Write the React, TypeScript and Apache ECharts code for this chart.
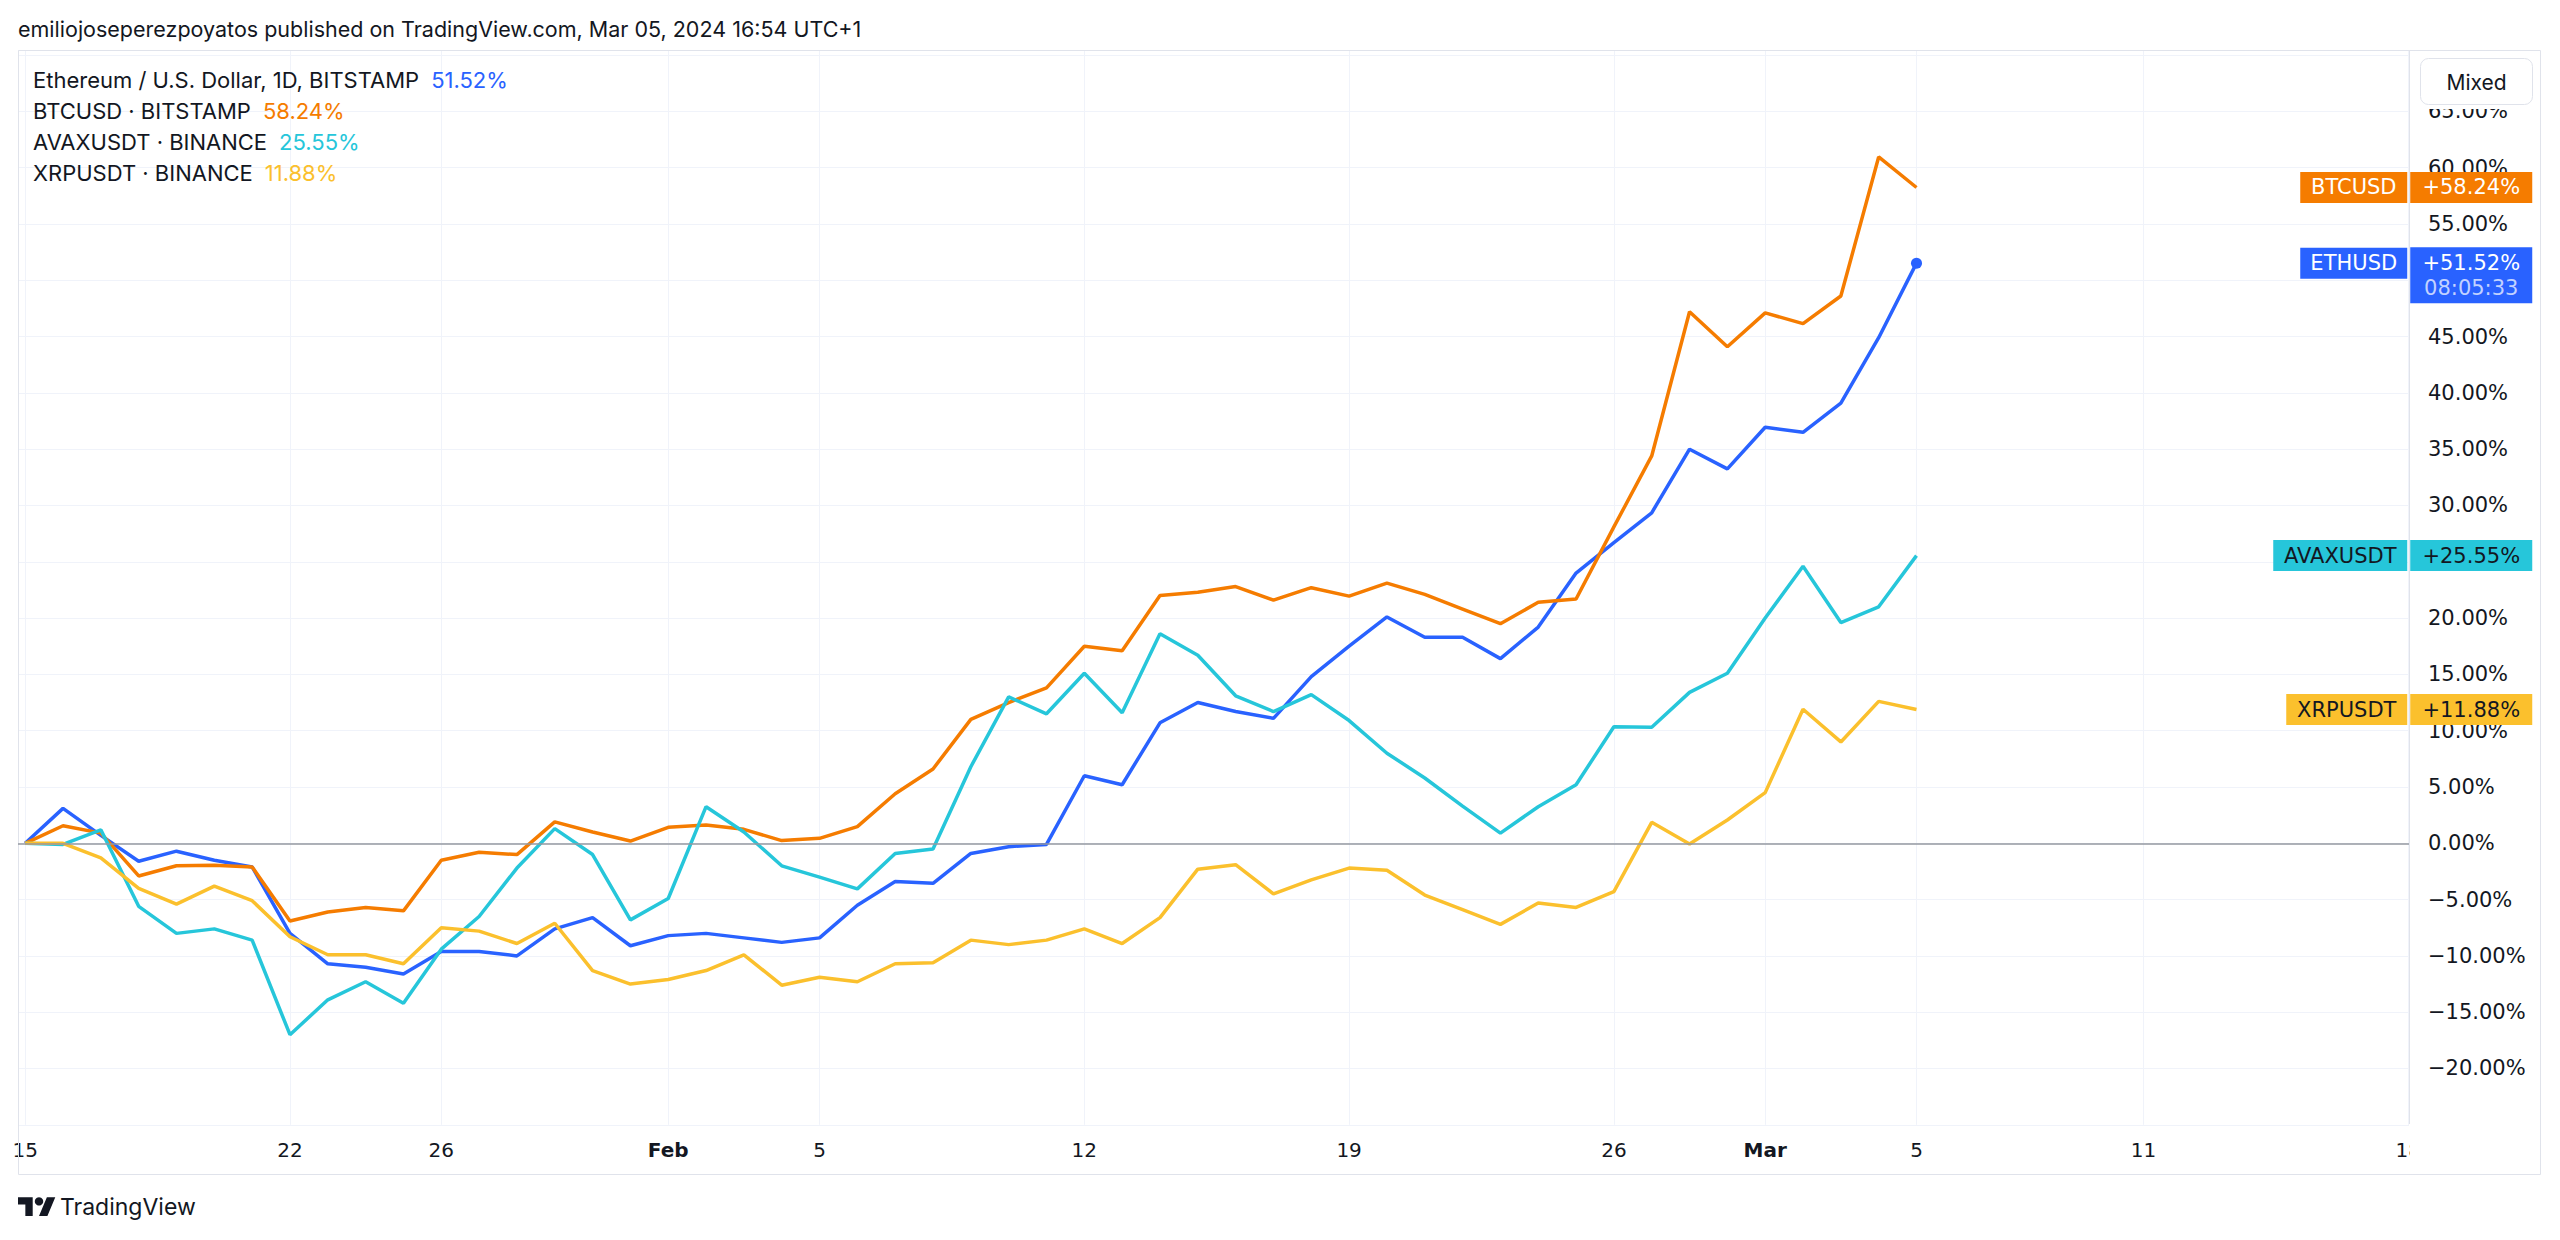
import React, { useEffect, useRef } from 'react';
import * as echarts from 'echarts';

// ---- data (percent change since Jan 15, 2024; one point per day up to Mar 05) ----
const dayCount = 51; // Jan 15 .. Mar 05
const days = Array.from({ length: dayCount }, (_, i) => i);

const ethValues = [
  0, 3.1, 0.7, -1.6, -0.7, -1.5, -2.1, -8.0, -10.7, -11.0, -11.6, -9.6, -9.6, -10.0, -7.6, -6.6, -9.1,
  -8.2, -8.0, -8.4, -8.8, -8.4, -5.5, -3.4, -3.55, -0.9, -0.3, -0.1, 6.0, 5.2, 10.7, 12.5, 11.7, 11.1,
  14.8, 17.5, 20.1, 18.3, 18.3, 16.4, 19.2, 24.0, 26.7, 29.35, 35.0, 33.25, 36.95, 36.5, 39.1, 44.9, 51.52,
];
const btcValues = [
  0, 1.56, 0.9, -2.9, -2.0, -1.95, -2.1, -6.9, -6.1, -5.7, -6.0, -1.5, -0.8, -1.0, 1.9, 1.0, 0.2,
  1.42, 1.63, 1.24, 0.24, 0.44, 1.48, 4.4, 6.6, 11.0, 12.5, 13.8, 17.5, 17.1, 22.0, 22.3, 22.8, 21.6,
  22.7, 21.95, 23.1, 22.1, 20.8, 19.5, 21.4, 21.7, 28.1, 34.4, 47.2, 44.1, 47.1, 46.15, 48.6, 60.95, 58.24,
];
const avaxValues = [
  0, -0.1, 1.2, -5.6, -8.0, -7.6, -8.6, -17.0, -13.9, -12.3, -14.2, -9.4, -6.5, -2.2, 1.3, -1.0, -6.8,
  -4.9, 3.25, 1.0, -2.0, -3.0, -4.05, -0.9, -0.5, 6.8, 13.0, 11.5, 15.1, 11.6, 18.6, 16.7, 13.1, 11.7,
  13.2, 10.9, 8.0, 5.8, 3.3, 0.9, 3.25, 5.2, 10.35, 10.3, 13.4, 15.1, 20.0, 24.6, 19.6, 21.0, 25.55,
];
const xrpValues = [
  0, 0, -1.3, -4.0, -5.4, -3.8, -5.1, -8.3, -9.9, -9.9, -10.7, -7.5, -7.8, -8.9, -7.1, -11.3, -12.5,
  -12.1, -11.3, -9.9, -12.6, -11.9, -12.3, -10.7, -10.6, -8.6, -9.0, -8.6, -7.6, -8.9, -6.6, -2.3, -1.9, -4.5,
  -3.25, -2.2, -2.4, -4.6, -5.9, -7.2, -5.3, -5.7, -4.3, 1.86, -0.06, 2.07, 4.5, 11.9, 9.0, 12.6, 11.88,
];

const tickDays = [0, 7, 11, 17, 21, 28, 35, 42, 46, 50, 56, 63];
const tickLabels = ['15', '22', '26', 'Feb', '5', '12', '19', '26', 'Mar', '5', '11', '18'];
const monthLabels = ['Feb', 'Mar'];
// price-scale ticks that sit fully behind the last-value badges in the original
const coveredPriceTicks = [50, 25];

const seriesNames = ['ETHUSD', 'BTCUSD', 'AVAXUSDT', 'XRPUSDT'];
const legendTitles = [
  'Ethereum / U.S. Dollar, 1D, BITSTAMP',
  'BTCUSD · BITSTAMP',
  'AVAXUSDT · BINANCE',
  'XRPUSDT · BINANCE',
];
const countdown = '08:05:33';
const headerText = 'emiliojoseperezpoyatos published on TradingView.com, Mar 05, 2024 16:54 UTC+1';

// ---- styles ----
const colors = ['#2962ff', '#f57c00', '#26c6da', '#fbc02d'];
const badgeTextColors = ['#ffffff', '#ffffff', '#131722', '#131722'];
const nameBadgeWidths = [107, 107, 134, 121];
const TEXT = '#131722';
const GRID = '#f0f3fa';
const BORDER = '#e0e3eb';
const UI_FONT = 'Inter, Roboto, "Noto Sans", sans-serif';
const NUM_FONT = '"DejaVu Sans", sans-serif';

const X_MIN = -0.19;
const X_MAX = 63.02;
const X_EDGE = 63;

const pct = (v: number) => (v < 0 ? '\u2212' : '') + Math.abs(v).toFixed(2) + '%';
const signedPct = (v: number) => (v >= 0 ? '+' : '\u2212') + Math.abs(v).toFixed(2) + '%';

const TV_LOGO = 'M14 22H7V11H0V4h14v18zM28 22h-8l7.5-18h8L28 22z';

export default function App() {
  const ref = useRef<HTMLDivElement>(null);

  useEffect(() => {
    if (!ref.current) return;
    try {
      echarts.graphic.registerShape('tvlogo', echarts.graphic.extendPath(TV_LOGO, {}));
    } catch (e) {
      // ignore
    }
    const chart = echarts.init(ref.current, undefined, { renderer: 'svg' });

    const allValues = [ethValues, btcValues, avaxValues, xrpValues];

    const series: any[] = allValues.map((vals, k) => {
      const last = vals[vals.length - 1];
      const isEth = k === 0;
      const markData: any[] = [
        {
          coord: [X_EDGE, last],
          symbol: 'rect',
          symbolSize: [nameBadgeWidths[k], 31],
          symbolOffset: [-(nameBadgeWidths[k] / 2) - 1, 0],
          itemStyle: { color: colors[k] },
          label: {
            show: true,
            position: 'inside',
            formatter: seriesNames[k],
            color: badgeTextColors[k],
            fontSize: 21,
            fontFamily: NUM_FONT,
          },
        },
        {
          coord: [X_EDGE, last],
          symbol: 'rect',
          symbolSize: [122, isEth ? 56 : 31],
          symbolOffset: [63, isEth ? 12 : 0],
          itemStyle: { color: colors[k] },
          label: {
            show: true,
            position: 'inside',
            formatter: isEth ? `{a|${signedPct(last)}}\n{b|${countdown}}` : signedPct(last),
            color: badgeTextColors[k],
            fontSize: 21,
            fontFamily: NUM_FONT,
            rich: {
              a: { color: '#ffffff', fontSize: 21, lineHeight: 25, fontFamily: NUM_FONT },
              b: { color: 'rgba(255,255,255,0.72)', fontSize: 21, lineHeight: 25, fontFamily: NUM_FONT },
            },
          },
        },
      ];
      if (isEth) {
        markData.push({
          coord: [days[days.length - 1], last],
          symbol: 'circle',
          symbolSize: 11,
          itemStyle: { color: colors[k] },
          label: { show: false },
        });
      }
      const s: any = {
        type: 'line',
        name: seriesNames[k],
        data: days.map((d, i) => [d, vals[i]]),
        showSymbol: false,
        symbol: 'none',
        lineStyle: { width: 3.5, color: colors[k] },
        itemStyle: { color: colors[k] },
        z: 3,
        markPoint: { silent: true, animation: false, data: markData },
      };
      if (k === 3) {
        s.markLine = {
          silent: true,
          animation: false,
          symbol: 'none',
          label: { show: false },
          lineStyle: { color: '#9598a1', width: 1.5, type: 'solid' },
          data: [{ yAxis: 0 }],
        };
      }
      return s;
    });

    const legendLines = legendTitles.map(
      (t, k) => `{n|${t}}{v${k}|${allValues[k][allValues[k].length - 1].toFixed(2)}%}`
    );
    const legendRich: any = {
      n: { fontSize: 22, fontWeight: 'normal', color: TEXT, fontFamily: UI_FONT, lineHeight: 31 },
    };
    colors.forEach((c, k) => {
      legendRich['v' + k] = {
        fontSize: 22,
        fontWeight: 'normal',
        color: c,
        fontFamily: UI_FONT,
        lineHeight: 31,
        padding: [0, 0, 0, 12],
      };
    });

    chart.setOption({
      animation: false,
      backgroundColor: '#ffffff',
      title: [
        {
          text: headerText,
          left: 13,
          top: 13,
          textStyle: { fontSize: 21.5, fontWeight: 'normal', color: TEXT, fontFamily: UI_FONT },
        },
        {
          text: legendLines.join('\n'),
          left: 28,
          top: 59,
          textStyle: { rich: legendRich, lineHeight: 31, fontWeight: 'normal' },
        },
      ],
      grid: { left: 18, right: 151, top: 50, bottom: 115.2, containLabel: false },
      xAxis: {
        type: 'value',
        min: X_MIN,
        max: X_MAX,
        axisLine: { show: false },
        axisTick: { show: false, customValues: tickDays },
        splitLine: { show: true, lineStyle: { color: GRID, width: 1 } },
        axisLabel: {
          customValues: tickDays,
          margin: 15,
          fontSize: 20,
          color: TEXT,
          fontFamily: NUM_FONT,
          formatter: (v: number) => {
            const i = tickDays.indexOf(Math.round(v));
            if (i < 0) return '';
            const t = tickLabels[i];
            return monthLabels.includes(t) ? `{m|${t}}` : t;
          },
          rich: { m: { fontSize: 20, fontWeight: 'bold', color: TEXT, fontFamily: NUM_FONT } },
        },
      },
      yAxis: {
        type: 'value',
        position: 'right',
        min: -25,
        max: 70.45,
        interval: 5,
        axisLine: { show: false },
        axisTick: { show: false },
        splitLine: { show: true, lineStyle: { color: GRID, width: 1 } },
        axisLabel: {
          margin: 19,
          fontSize: 21,
          color: TEXT,
          fontFamily: NUM_FONT,
          formatter: (v: number) =>
            v <= -25 || v >= 70 || coveredPriceTicks.includes(Math.round(v)) ? '' : pct(v),
        },
      },
      series,
      graphic: [
        {
          type: 'rect',
          z: 1,
          silent: true,
          shape: { x: 18.5, y: 50.5, width: 2522, height: 1124 },
          style: { fill: 'none', stroke: BORDER, lineWidth: 1 },
        },
        {
          type: 'line',
          z: 1,
          silent: true,
          shape: { x1: 2409.5, y1: 50, x2: 2409.5, y2: 1124 },
          style: { stroke: BORDER, lineWidth: 1 },
        },
        // covers the clipped part of the last date label
        {
          type: 'rect',
          z: 100,
          silent: true,
          shape: { x: 2410, y: 1127, width: 130, height: 47 },
          style: { fill: '#ffffff' },
        },
        // scale-mode button
        {
          type: 'rect',
          z: 100,
          silent: true,
          shape: { x: 2410, y: 51, width: 130, height: 58 },
          style: { fill: '#ffffff' },
        },
        {
          type: 'rect',
          z: 101,
          silent: true,
          shape: { x: 2420.5, y: 58.5, width: 112, height: 46, r: 8 },
          style: { fill: '#ffffff', stroke: BORDER, lineWidth: 1 },
        },
        {
          type: 'text',
          z: 102,
          silent: true,
          x: 2476.5,
          y: 82,
          style: {
            text: 'Mixed',
            fill: TEXT,
            fontSize: 21,
            fontFamily: UI_FONT,
            textAlign: 'center',
            textVerticalAlign: 'middle',
          },
        },
        // footer logo
        {
          type: 'tvlogo',
          x: 18,
          y: 1193,
          scaleX: 1.05,
          scaleY: 1.05,
          silent: true,
          style: { fill: TEXT },
        },
        {
          type: 'circle',
          silent: true,
          shape: { cx: 18 + 20 * 1.05, cy: 1193 + 8 * 1.05, r: 4 * 1.05 },
          style: { fill: TEXT },
        },
        {
          type: 'text',
          silent: true,
          x: 60,
          y: 1207,
          style: {
            text: 'TradingView',
            fill: TEXT,
            fontSize: 23,
            fontFamily: UI_FONT,
            textVerticalAlign: 'middle',
          },
        },
      ],
    });

    return () => {
      chart.dispose();
    };
  }, []);

  return (
    <div
      ref={ref}
      style={{ position: 'fixed', left: 0, top: 0, width: 2560, height: 1240, background: '#ffffff' }}
    />
  );
}
